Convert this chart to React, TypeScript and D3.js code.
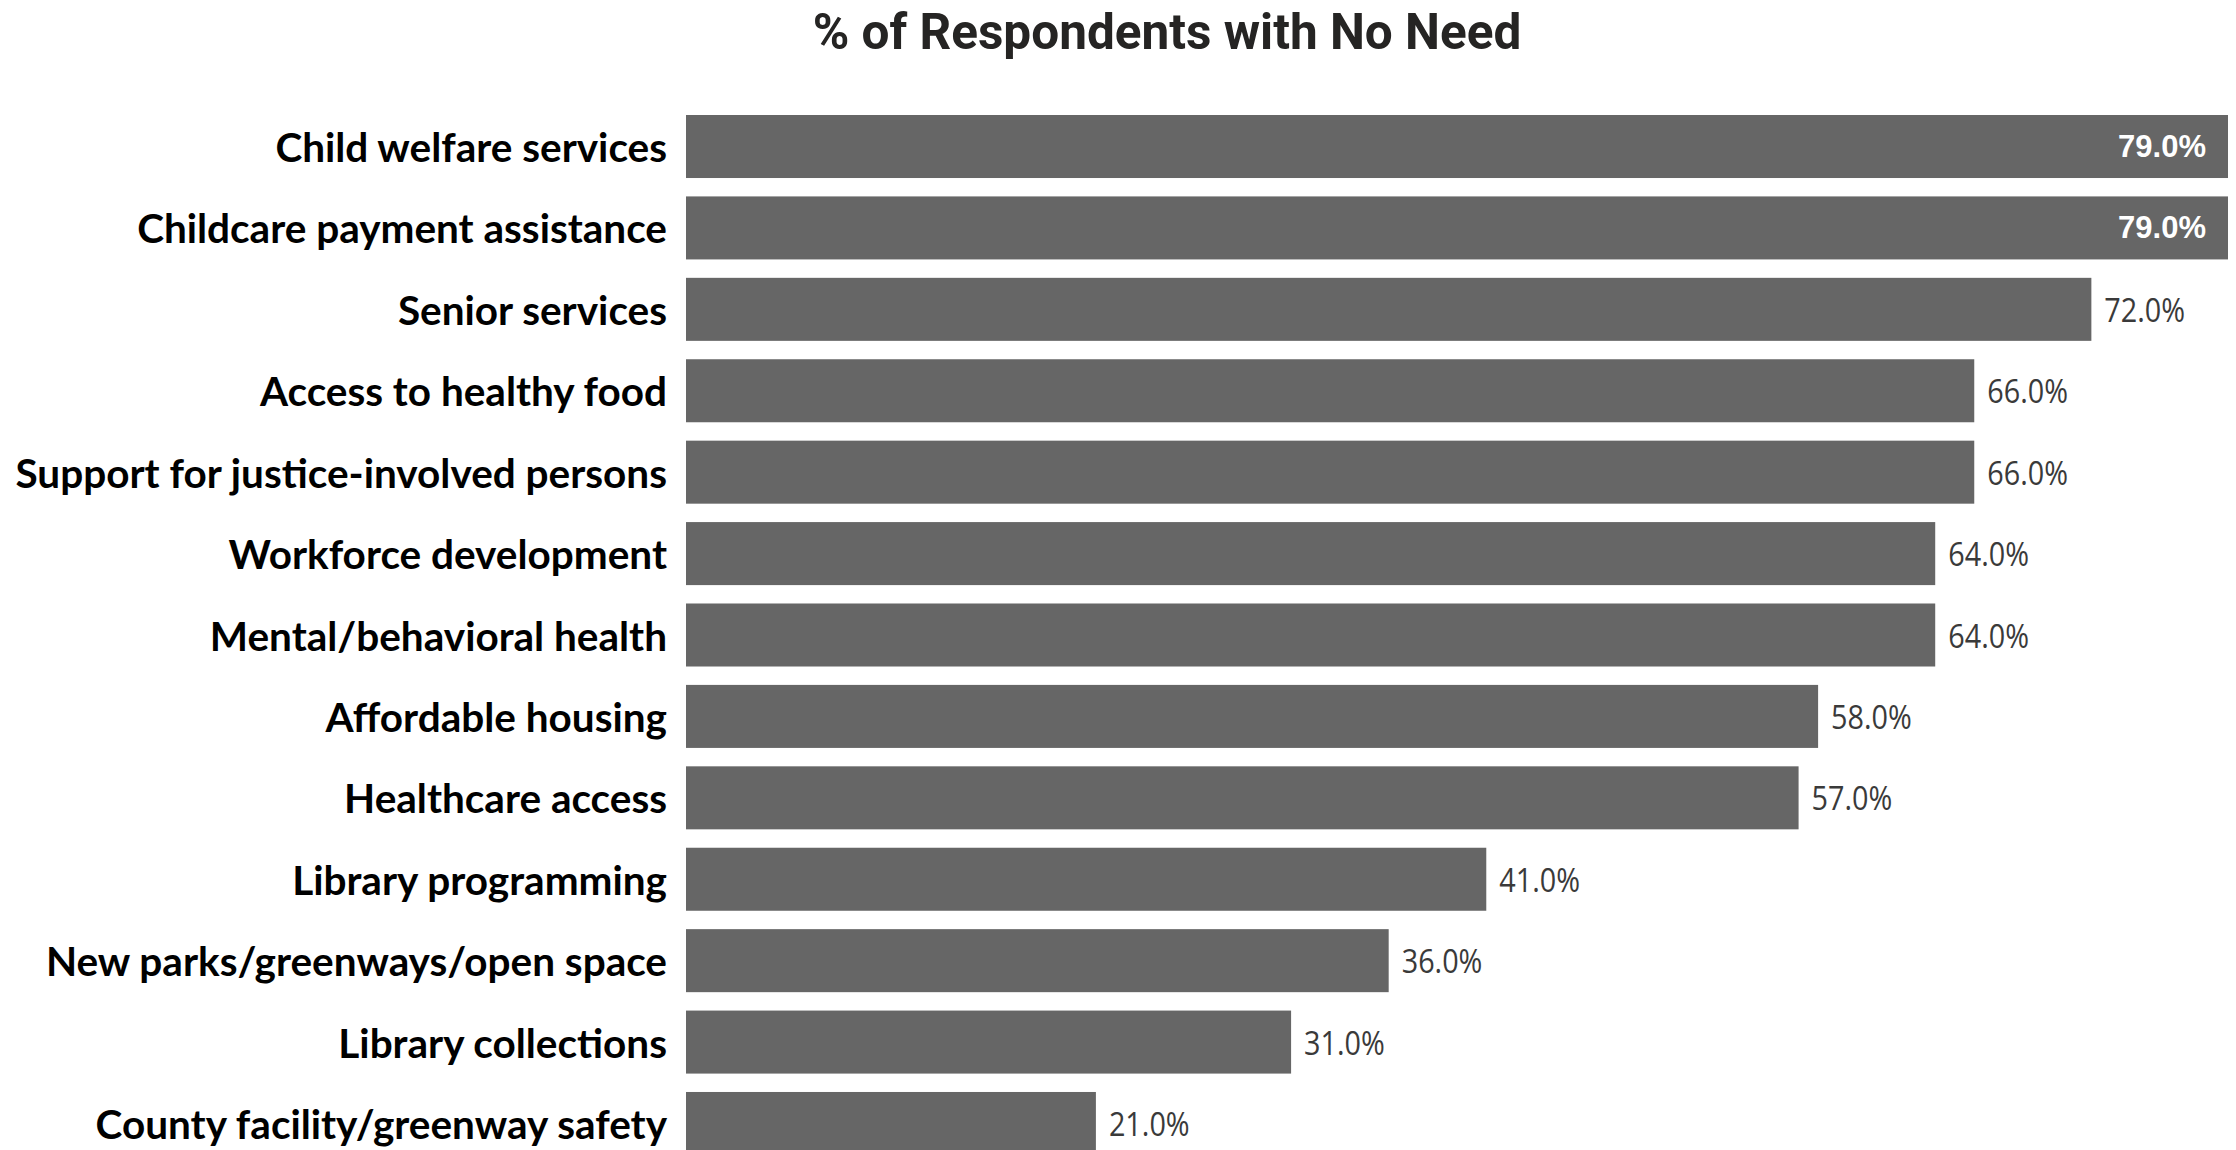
import React from "react";
import * as d3 from "d3";

const title = "% of Respondents with No Need";
const categories = [
  "Child welfare services",
  "Childcare payment assistance",
  "Senior services",
  "Access to healthy food",
  "Support for justice-involved persons",
  "Workforce development",
  "Mental/behavioral health",
  "Affordable housing",
  "Healthcare access",
  "Library programming",
  "New parks/greenways/open space",
  "Library collections",
  "County facility/greenway safety",
];
const values = [79, 79, 72, 66, 66, 64, 64, 58, 57, 41, 36, 31, 21];
const insideThreshold = 75;

const W = 2236;
const H = 1150;

export default function App() {
  const x = d3.scaleLinear().domain([0, d3.max(values) as number]).range([686, 2228]);
  const y = d3
    .scaleBand<string>()
    .domain(categories)
    .range([115, 1155])
    .paddingInner(0.226)
    .paddingOuter(0);
  const bw = y.bandwidth();

  return (
    <>
      <style>{"body{margin:0;background:#fff}"}</style>
      <svg width={W} height={H} style={{ display: "block" }}>
        <rect width={W} height={H} fill="#ffffff" />
        <text
          x={1167}
          y={32}
          textAnchor="middle"
          dominantBaseline="central"
          fontFamily="Roboto"
          fontWeight={700}
          fontSize={49.5}
          fill="#252423"
        >
          {title}
        </text>
        {categories.map((c, i) => {
          const v = values[i];
          const y0 = y(c) as number;
          const cy = y0 + bw / 2;
          const inside = v >= insideThreshold;
          return (
            <g key={c}>
              <rect x={x(0)} y={y0} width={x(v) - x(0)} height={bw} fill="#666666" />
              <text
                x={x(0) - 19}
                y={cy}
                textAnchor="end"
                dominantBaseline="central"
                fontFamily="Lato"
                fontWeight={700}
                fontSize={40.5}
                fill="#000000"
              >
                {c}
              </text>
              {inside ? (
                <text
                  x={x(v) - 22}
                  y={cy}
                  textAnchor="end"
                  dominantBaseline="central"
                  fontFamily="Liberation Sans"
                  fontWeight={700}
                  fontSize={31}
                  fill="#ffffff"
                >
                  {v.toFixed(1) + "%"}
                </text>
              ) : (
                <text
                  transform={`translate(${x(v) + 13},${cy}) scale(1,1.12)`}
                  textAnchor="start"
                  dominantBaseline="central"
                  fontFamily="Open Sans"
                  fontSize={28.8}
                  fill="#3a3a3a"
                >
                  {v.toFixed(1) + "%"}
                </text>
              )}
            </g>
          );
        })}
      </svg>
    </>
  );
}
